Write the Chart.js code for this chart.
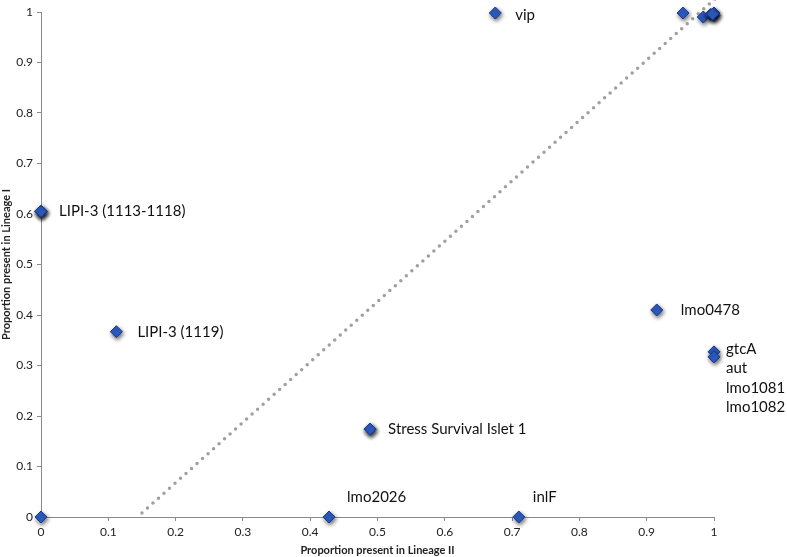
<!DOCTYPE html>
<html>
<head>
<meta charset="utf-8">
<script src="https://cdn.jsdelivr.net/npm/chart.js@4/dist/chart.umd.min.js"></script>
<style>
  html, body { margin: 0; padding: 0; background: #fff; }
  #wrap { width: 787px; height: 557px; position: relative; }
</style>
</head>
<body>
<div id="wrap"><canvas id="c" width="787" height="557"></canvas></div>
<script>
// ---- data ----
const lineage2 = [0, 0.112, 0.489, 0.489, 0.428, 0.710, 0.915, 1.0, 1.0, 0.675, 0.954, 0.984, 0.995, 1.0, 1.0, 0.998, 0, 0, 0];
const lineage1 = [0, 0.367, 0.174, 0.174, 0, 0, 0.410, 0.327, 0.317, 0.998, 0.998, 0.990, 0.995, 0.993, 0.998, 0.996, 0.605, 0.605, 0.605];
const pointNames = ["", "LIPI-3 (1119)", "Stress Survival Islet 1", "", "lmo2026", "inlF", "lmo0478", "gtcA\naut\nlmo1081\nlmo1082", "", "vip", "", "", "", "", "", "", "LIPI-3 (1113-1118)", "", ""];
const trendX = [0.150, 1.003];
const trendY = [0.008, 1.028];
const xTicks = [0, 0.1, 0.2, 0.3, 0.4, 0.5, 0.6, 0.7, 0.8, 0.9, 1];
const yTicks = [0, 0.1, 0.2, 0.3, 0.4, 0.5, 0.6, 0.7, 0.8, 0.9, 1];
const xTitle = "Proportion present in Lineage II";
const yTitle = "Proportion present in Lineage I";

// ---- presentation ----
const labelOffsets = {
  "LIPI-3 (1119)": [21, 0],
  "Stress Survival Islet 1": [18, 0],
  "lmo2026": [18, -20],
  "inlF": [14, -20],
  "lmo0478": [24, 0],
  "gtcA\naut\nlmo1081\nlmo1082": [12, -3],
  "vip": [20, 2],
  "LIPI-3 (1113-1118)": [18, 0]
};
const FONT = 'Lato, "Liberation Sans", sans-serif';
const fmt = v => String(+Number(v).toFixed(1));

const pts = lineage2.map((x, i) => ({ x: x, y: lineage1[i] }));
const trend = trendX.map((x, i) => ({ x: x, y: trendY[i] }));

const shadowPlugin = {
  id: 'shadow',
  beforeDatasetDraw(chart, args) {
    if (args.index === 0) {
      const ctx = chart.ctx;
      ctx.save();
      ctx.shadowColor = 'rgba(0,0,0,0.6)';
      ctx.shadowBlur = 4;
      ctx.shadowOffsetX = 1;
      ctx.shadowOffsetY = 2;
    }
  },
  afterDatasetDraw(chart, args) {
    if (args.index === 0) chart.ctx.restore();
  }
};

const labelPlugin = {
  id: 'pointLabels',
  afterDatasetsDraw(chart) {
    const ctx = chart.ctx;
    const xs = chart.scales.x, ys = chart.scales.y;
    ctx.save();
    ctx.fillStyle = '#111';
    ctx.font = '15px ' + FONT;
    ctx.textBaseline = 'middle';
    ctx.textAlign = 'left';
    pointNames.forEach((name, i) => {
      if (!name) return;
      const off = labelOffsets[name] || [16, 0];
      const px = xs.getPixelForValue(lineage2[i]) + off[0];
      const py = ys.getPixelForValue(lineage1[i]) + off[1];
      name.split('\n').forEach((line, k) => {
        ctx.fillText(line, px, py + k * 19.5);
      });
    });
    ctx.restore();
  }
};

new Chart(document.getElementById('c'), {
  type: 'scatter',
  data: {
    datasets: [
      {
        data: pts,
        pointStyle: 'rectRot',
        pointRadius: 6,
        pointHoverRadius: 6,
        backgroundColor: '#2E5EC6',
        borderColor: '#1A3A8C',
        borderWidth: 1,
        clip: false,
        order: 1
      },
      {
        type: 'line',
        data: trend,
        showLine: true,
        pointRadius: 0,
        borderColor: '#A0A0A0',
        borderWidth: 3.5,
        borderDash: [0, 7.4],
        borderCapStyle: 'round',
        fill: false,
        clip: false,
        order: 2
      }
    ]
  },
  options: {
    responsive: false,
    animation: false,
    events: [],
    layout: { padding: { top: 12, right: 73, left: 0, bottom: 0 } },
    plugins: { legend: { display: false }, tooltip: { enabled: false } },
    scales: {
      x: {
        type: 'linear',
        min: 0, max: 1,
        afterFit(s) { s.height = 40; },
        afterBuildTicks(s) { s.ticks = xTicks.map(v => ({ value: v })); },
        border: { color: '#8a8a8a', width: 1 },
        grid: { drawOnChartArea: false, color: '#8a8a8a', tickLength: 4 },
        ticks: { color: '#222', font: { family: FONT, size: 12 }, padding: 4, maxRotation: 0, callback: fmt },
        title: { display: true, text: xTitle, color: '#222', font: { family: FONT, size: 11, weight: 'bold' }, padding: { top: 0, bottom: 0 } }
      },
      y: {
        type: 'linear',
        min: 0, max: 1,
        afterFit(s) { s.width = 41; },
        afterBuildTicks(s) { s.ticks = yTicks.map(v => ({ value: v })); },
        border: { color: '#8a8a8a', width: 1 },
        grid: { drawOnChartArea: false, color: '#8a8a8a', tickLength: 4 },
        ticks: { color: '#222', font: { family: FONT, size: 12 }, padding: 4, callback: fmt },
        title: { display: true, text: yTitle, color: '#222', font: { family: FONT, size: 11, weight: 'bold' }, padding: { top: 0, bottom: 0 } }
      }
    }
  },
  plugins: [shadowPlugin, labelPlugin]
});
</script>
</body>
</html>
